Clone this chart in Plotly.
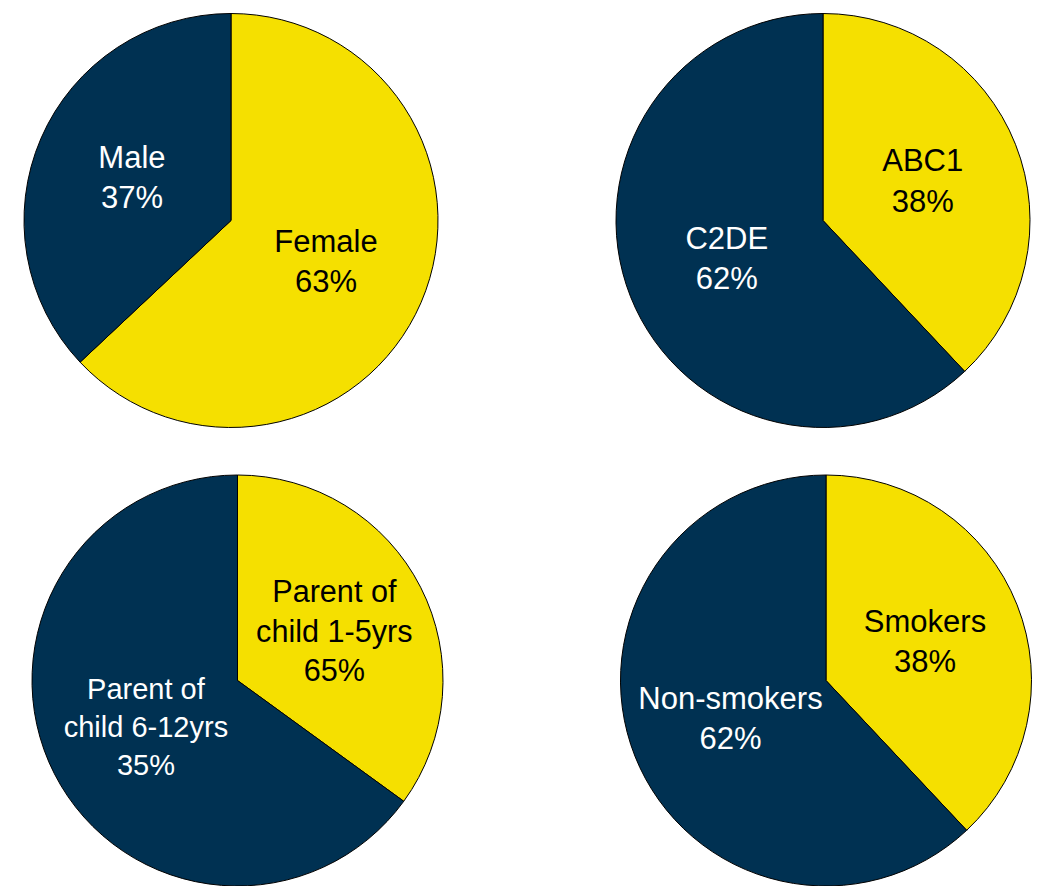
import plotly.graph_objects as go

NAVY = "#003152"
YELLOW = "#F5E000"

# Each pie: yellow slice first (clockwise from 12 o'clock), navy second
gender_labels = ["Female", "Male"]
gender_values = [63, 37]
gender_text = ["Female<br>63%", "Male<br>37%"]

class_labels = ["ABC1", "C2DE"]
class_values = [38, 62]
class_text = ["ABC1<br>38%", "C2DE<br>62%"]

parent_labels = ["Parent of child 1-5yrs", "Parent of child 6-12yrs"]
parent_values = [35, 65]
parent_text = ["Parent of<br>child 1-5yrs<br>65%", "Parent of<br>child 6-12yrs<br>35%"]

smoke_labels = ["Smokers", "Non-smokers"]
smoke_values = [38, 62]
smoke_text = ["Smokers<br>38%", "Non-smokers<br>62%"]

W, H = 1040, 886
domains = [
    (dict(x=[24 / W, 438 / W], y=[1 - 428 / H, 1 - 13 / H])),
    (dict(x=[616 / W, 1030 / W], y=[1 - 428 / H, 1 - 13 / H])),
    (dict(x=[30 / W, 445 / W], y=[0, 1 - 475 / H])),
    (dict(x=[619 / W, 1033 / W], y=[0, 1 - 475 / H])),
]
font_sizes = [[31, 31], [31, 31], [31, 29], [31, 31]]

fig = go.Figure()
for (labels, values, text), dom, fs in zip(
    [
        (gender_labels, gender_values, gender_text),
        (class_labels, class_values, class_text),
        (parent_labels, parent_values, parent_text),
        (smoke_labels, smoke_values, smoke_text),
    ],
    domains,
    font_sizes,
):
    fig.add_trace(
        go.Pie(
            labels=labels,
            values=values,
            text=text,
            textinfo="text",
            textposition="inside",
            insidetextorientation="horizontal",
            sort=False,
            direction="clockwise",
            rotation=0,
            marker=dict(colors=[YELLOW, NAVY], line=dict(color="#000000", width=1)),
            insidetextfont=dict(color=["#000000", "#FFFFFF"], size=fs,
                                family="Liberation Sans, Arial, sans-serif"),
            domain=dom,
            showlegend=False,
            hoverinfo="label+percent",
        )
    )

fig.update_layout(
    width=W,
    height=H,
    margin=dict(l=0, r=0, t=0, b=0),
    paper_bgcolor="white",
    plot_bgcolor="white",
    showlegend=False,
)

fig.write_html("out.html")
